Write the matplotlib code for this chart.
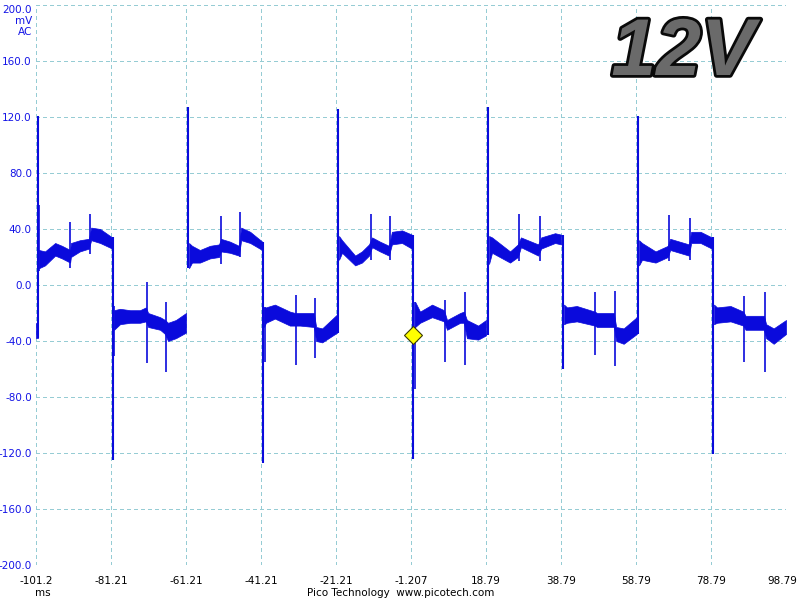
import matplotlib
matplotlib.use("Agg")
import matplotlib.pyplot as plt
import matplotlib.patheffects as pe
import matplotlib.transforms as mtransforms

# ---------------- data (ms, mV) ----------------
x_ticks = [-101.21, -81.21, -61.21, -41.21, -21.21, -1.207, 18.79, 38.79, 58.79, 78.79, 98.79]
x_labels = ["-101.2", "-81.21", "-61.21", "-41.21", "-21.21", "-1.207", "18.79", "38.79", "58.79", "78.79", "98.79"]
y_ticks = [200, 160, 120, 80, 40, 0, -40, -80, -120, -160, -200]
y_labels = ["200.0", "160.0", "120.0", "80.0", "40.0", "0.0", "-40.0", "-80.0", "-120.0", "-160.0", "-200.0"]

# noise-band envelopes, one list per half cycle: time, upper, lower
seg_t = [
    [-101.2, -100.7],
    [-100.4, -98.8, -96.1, -94.3, -92.1, -91.9, -89.5, -87.1, -86.5, -84.1, -80.9],
    [-80.4, -78.8, -76.1, -73.5, -71.9, -71.3, -68.1, -66.8, -66.0, -63.9, -61.2],
    [-60.4, -59.6, -57.5, -54.8, -52.4, -51.9, -49.5, -47.1, -46.5, -44.1, -40.9],
    [-40.4, -39.9, -37.5, -33.5, -32.1, -30.8, -27.1, -26.5, -24.9, -20.9],
    [-20.4, -19.6, -16.1, -14.3, -12.4, -11.6, -9.5, -7.1, -6.3, -3.6, -1.0],
    [-0.1, 1.2, 4.4, 7.6, 8.4, 11.9, 12.9, 13.7, 16.7, 18.8],
    [19.6, 20.4, 25.2, 27.3, 28.1, 32.7, 33.5, 37.2, 38.8],
    [39.6, 40.4, 43.0, 47.8, 48.4, 52.9, 53.5, 55.5, 59.0],
    [59.6, 60.4, 64.0, 67.3, 67.9, 72.9, 73.5, 76.0, 79.0],
    [79.6, 80.4, 84.0, 87.4, 88.0, 92.9, 93.5, 95.5, 98.8],
]
seg_hi = [
    [-27, -27],
    [25, 24, 30, 28, 25, 30, 32, 33, 41, 40, 34],
    [-18, -17, -18, -18, -16, -20, -23, -25, -27, -25, -20],
    [30, 28, 25, 28, 29, 33, 31, 28, 41, 38, 31],
    [-16, -16, -14, -19, -20, -20, -20, -30, -31, -21],
    [35, 32, 21, 24, 29, 34, 31, 28, 38, 39, 36],
    [-12, -19, -14, -18, -25, -20, -19, -25, -29, -25],
    [35, 34, 24, 29, 34, 29, 34, 37, 36],
    [-14, -16, -15, -19, -20, -20, -30, -31, -23],
    [32, 30, 24, 28, 33, 29, 38, 38, 34],
    [-14, -16, -15, -19, -22, -22, -28, -31, -25],
]
seg_lo = [
    [-38, -38],
    [12, 14, 21, 19, 16, 20, 24, 26, 32, 30, 26],
    [-32, -28, -27, -27, -26, -30, -32, -35, -40, -38, -34],
    [12, 16, 16, 19, 20, 24, 23, 21, 32, 30, 25],
    [-30, -27, -24, -29, -29, -29, -30, -40, -41, -34],
    [18, 23, 14, 16, 21, 27, 24, 21, 29, 30, 26],
    [-30, -27, -23, -26, -32, -27, -27, -38, -39, -36],
    [15, 23, 16, 20, 27, 21, 26, 30, 29],
    [-28, -27, -26, -29, -30, -30, -40, -42, -35],
    [14, 18, 16, 20, 25, 21, 30, 30, 26],
    [-28, -27, -26, -29, -32, -32, -38, -42, -35],
]

# switching edges and spikes: time, low, high
edge_t = [-100.67, -80.67, -60.67, -40.67, -20.67, -0.67, 19.33, 39.33, 59.33, 79.33]
edge_lo = [-38, -125, 12, -127, -34, -124, -36, -60, -35, -121]
edge_hi = [121, 34, 127, 31, 126, 36, 127, 36, 121, 34]

spike_t = [-100.4, -92.1, -86.8, -80.3, -71.6, -66.5, -51.9, -46.8, -40.1, -31.9, -26.8,
           -11.9, -6.8, -0.2, 7.9, 13.2, 27.6, 33.2, 47.9, 53.2, 67.6, 73.2, 87.6, 93.2]
spike_lo = [10, 12, 22, -51, -56, -62, 15, 20, -55, -57, -52,
            18, 18, -74, -55, -57, 17, 17, -50, -58, 17, 18, -55, -62]
spike_hi = [57, 45, 51, -15, 2, -12, 49, 52, -16, -7, -9,
            51, 49, -12, -11, -5, 51, 49, -5, -4, 50, 48, -8, -5]

marker_t = [-0.67]
marker_v = [-35.7]

# ---------------- figure ----------------
fig = plt.figure(figsize=(8, 6), dpi=100)
ax = fig.add_axes([36 / 800, 1 - 565 / 600, 750 / 800, 560 / 600])

wave = "#0A0ADC"
for t, hi, lo in zip(seg_t, seg_hi, seg_lo):
    ax.fill_between(t, lo, hi, color=wave, lw=0.5, edgecolor=wave)
ax.vlines(edge_t, edge_lo, edge_hi, color=wave, lw=1.5)
ax.vlines(spike_t, spike_lo, spike_hi, color=wave, lw=1.2)

ax.plot(marker_t, marker_v, marker="D", ms=9, mfc="#FFFF00", mec="#3a3a00", mew=0.8, ls="none", zorder=5)

ax.set_xlim(x_ticks[0], x_ticks[-1])
ax.set_ylim(-200, 200)
ax.set_xticks(x_ticks)
ax.set_xticklabels(x_labels)
ax.set_yticks(y_ticks)
ax.set_yticklabels(y_labels)
for s in ax.spines.values():
    s.set_visible(False)
ax.grid(True, color="#96CCD4", lw=0.75, ls=(0, (3, 3)))
for gl in ax.get_xgridlines() + ax.get_ygridlines():
    gl.set_antialiased(False)
ax.set_axisbelow(True)
ax.tick_params(axis="both", length=0, labelsize=7.5)
ax.tick_params(axis="x", pad=8, labelcolor="black")
ax.tick_params(axis="y", pad=3, labelcolor="#1414E6")
last = ax.get_xticklabels()[-1]
last.set_horizontalalignment("right")
last.set_transform(last.get_transform() + mtransforms.ScaledTranslation(11 / 100, 0, fig.dpi_scale_trans))
ax.get_yticklabels()[0].set_verticalalignment("top")

fig.text(32 / 800, 1 - 21 / 600, "mV", ha="right", va="center", color="#1414E6", fontsize=7.5)
fig.text(32 / 800, 1 - 32 / 600, "AC", ha="right", va="center", color="#1414E6", fontsize=7.5)
fig.text(43 / 800, 1 - 593 / 600, "ms", ha="center", va="center", color="black", fontsize=7.5)
fig.text(401 / 800, 1 - 593 / 600, "Pico Technology  www.picotech.com", ha="center", va="center",
         color="black", fontsize=7.5)

fig.text(683 / 800, 1 - 54 / 600, "12V", ha="center", va="center", fontsize=58,
         family="Liberation Sans", weight="bold", style="italic", color="#6a6a6a",
         path_effects=[pe.Stroke(linewidth=4, foreground="#0a0a0a"), pe.Normal()])

fig.savefig("out.png", dpi=100, facecolor="white")
